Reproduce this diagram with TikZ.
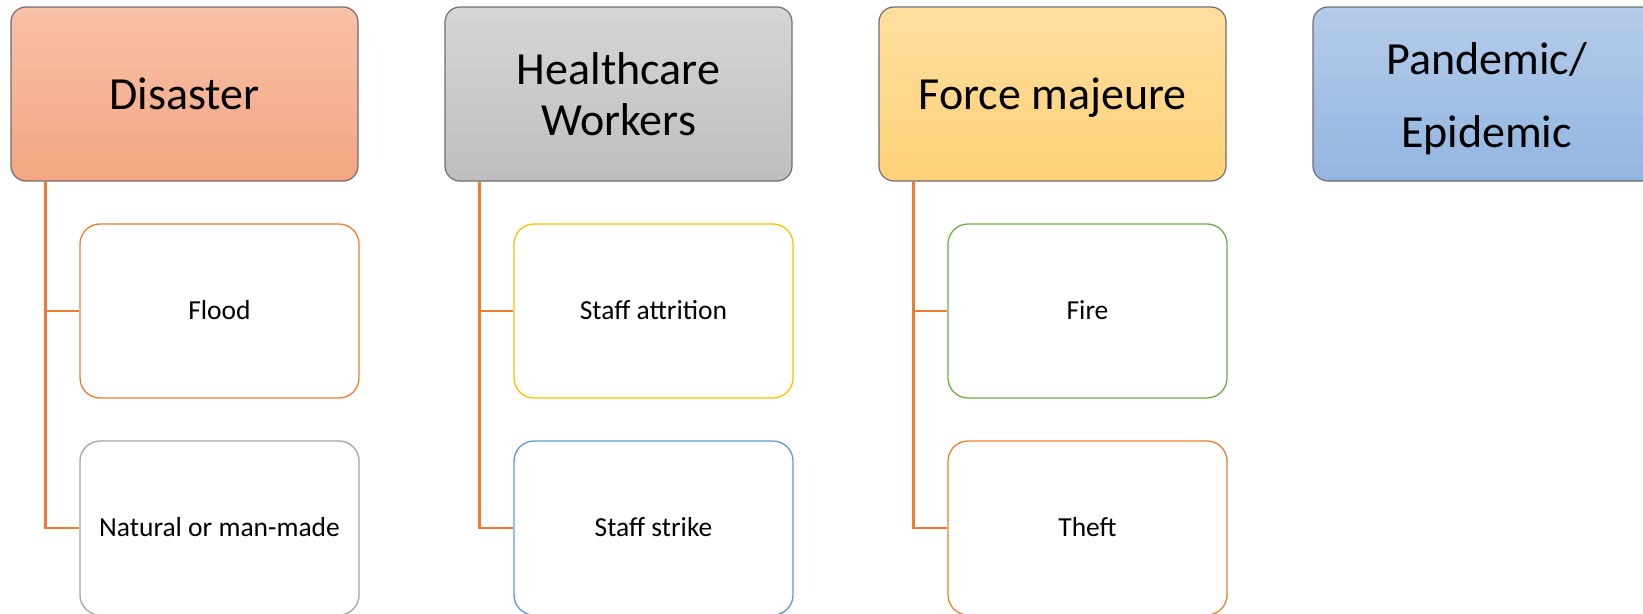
\documentclass[tikz,border=0pt]{standalone}
\usepackage{fontspec}
\setmainfont{Carlito}
\usepackage{xcolor}
\usetikzlibrary{calc}

\definecolor{headline}{RGB}{110,110,110}
\definecolor{linkorange}{RGB}{237,125,49}
\definecolor{leafgray}{RGB}{165,165,165}
\definecolor{leafgold}{RGB}{255,192,0}
\definecolor{leafblue}{RGB}{91,155,213}
\definecolor{leafgreen}{RGB}{112,173,71}

\begin{document}
\begin{tikzpicture}[x = 1pt, y = -1pt,
		head/.style = {draw = headline, line width = 1.2pt, rounded corners = 15pt, minimum width = 347pt, minimum height = 174pt, align = center, font = \fontsize{46}{51}\selectfont},
		flat/.style = {text height = 39pt, text depth = 9pt},
		leaf/.style = {fill = white, line width = 1.3pt, rounded corners = 20pt, minimum width = 279pt, minimum height = 174pt, text height = 23pt, text depth = 5.3pt, font = \fontsize{27.5}{33}\selectfont},
		link/.style = {draw = linkorange, line width = 2.6pt}]
	\useasboundingbox (0,0) rectangle (1643,613);
	\node[head, flat, top color = {rgb,255:red,248;green,193;blue,168}, bottom color = {rgb,255:red,244;green,165;blue,130}] (t_1) at (184.5,94) {Disaster};
	\node[head, top color = {rgb,255:red,214;green,214;blue,214}, bottom color = {rgb,255:red,190;green,190;blue,190}] (t_2) at (618.5,94) {Healthcare\\Workers};
	\node[head, flat, top color = {rgb,255:red,255;green,222;blue,158}, bottom color = {rgb,255:red,255;green,209;blue,120}] (t_3) at (1052.5,94) {Force majeure};
	\node[head, font = \fontsize{46}{73}\selectfont, top color = {rgb,255:red,180;green,204;blue,234}, bottom color = {rgb,255:red,146;green,181;blue,224}] (t_4) at (1486.5,94) {\rule{0pt}{42pt}Pandemic/\\Epidemic};
	\node[leaf, draw = linkorange] (s_1) at (219.5,311) {Flood};
	\node[leaf, draw = leafgray] (s_2) at (219.5,528) {Natural or man-made};
	\node[leaf, draw = leafgold] (s_3) at (653.5,311) {Staff attrition};
	\node[leaf, draw = leafblue] (s_4) at (653.5,528) {Staff strike};
	\node[leaf, draw = leafgreen] (s_5) at (1087.5,311) {Fire};
	\node[leaf, draw = linkorange] (s_6) at (1087.5,528) {Theft};
	\draw[link] ($(t_1.south west)+(35,0)$) |- (s_1.west);
	\draw[link] ($(t_1.south west)+(35,0)$) |- (s_2.west);
	\draw[link] ($(t_2.south west)+(35,0)$) |- (s_3.west);
	\draw[link] ($(t_2.south west)+(35,0)$) |- (s_4.west);
	\draw[link] ($(t_3.south west)+(35,0)$) |- (s_5.west);
	\draw[link] ($(t_3.south west)+(35,0)$) |- (s_6.west);
\end{tikzpicture}
\end{document}
